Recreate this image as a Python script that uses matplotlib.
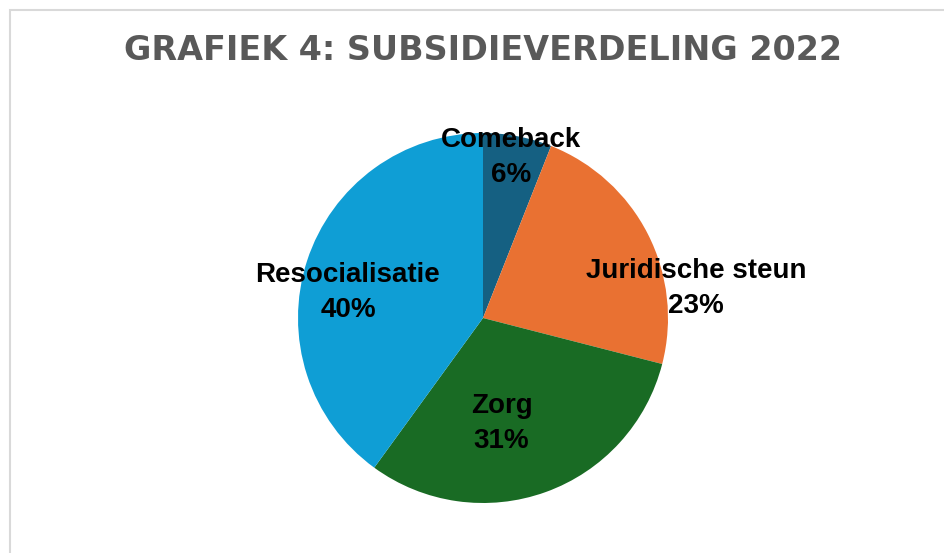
import matplotlib.pyplot as plt
from matplotlib.patches import Rectangle

# Data
categories = ['Comeback', 'Juridische steun', 'Zorg', 'Resocialisatie']
shares = [6, 23, 31, 40]
colors = ['#156082', '#E97132', '#196B24', '#0F9ED5']

W, H = 944, 553
fig = plt.figure(figsize=(W / 100, H / 100), dpi=100)

# light chart border (left and top visible)
fig.patches.append(Rectangle((9.5 / W, -0.05), 1.2, 1 - 9.5 / H + 0.05,
                             transform=fig.transFigure, fill=False,
                             edgecolor='#d9d9d9', linewidth=1.5))

# pie centre and radius in pixels
cx, cy, r = 483, 318, 185
ax = fig.add_axes([(cx - r) / W, (H - cy - r) / H, 2 * r / W, 2 * r / H])
ax.pie(shares, colors=colors, startangle=90, counterclock=False, radius=1,
       wedgeprops=dict(linewidth=0))
ax.set_xlim(-1, 1)
ax.set_ylim(-1, 1)
ax.set_aspect('equal')
ax.axis('off')

# label positions relative to the radius
label_pos = [(0.15, 0.87), (1.15, 0.16), (0.10, -0.57), (-0.73, 0.14)]
for name, val, (x, y) in zip(categories, shares, label_pos):
    ax.text(x, y, f'{name}\n{val}%', ha='center', va='center',
            fontsize=20, fontweight='bold', family='Liberation Sans',
            linespacing=1.45, color='black')

fig.text(cx / W, 1 - 51 / H, 'GRAFIEK 4: SUBSIDIEVERDELING 2022',
         ha='center', va='center', fontsize=24, fontweight='bold',
         family='DejaVu Sans', color='#595959')

fig.savefig('out.png', dpi=100)
